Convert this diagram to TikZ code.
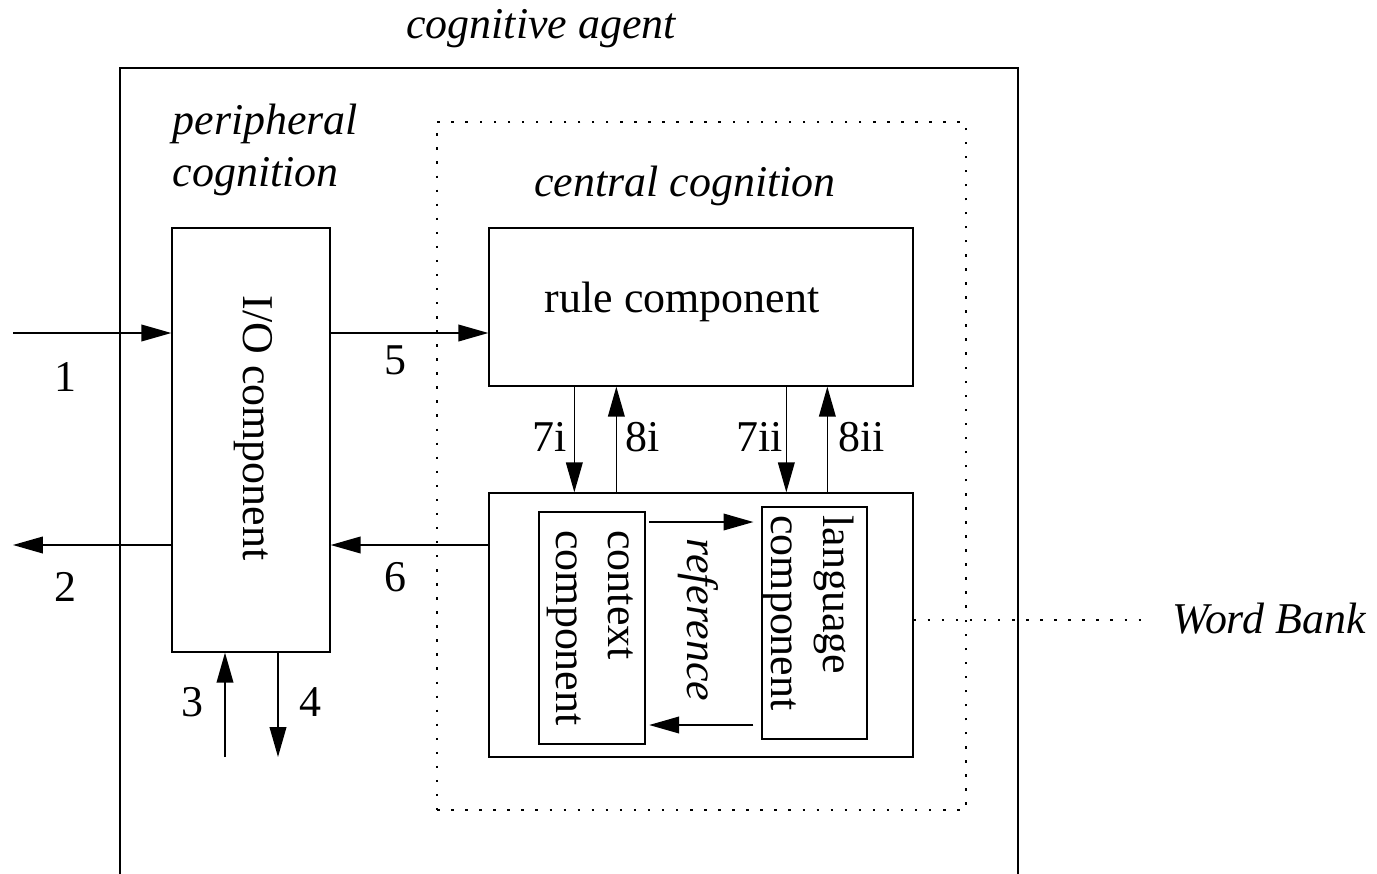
\documentclass[tikz,border=0pt]{standalone}
\usepackage{fontspec}
\setmainfont{Liberation Serif}
\usepackage{tikz}
\usetikzlibrary{calc, arrows.meta}
\tikzset{>={Triangle[length=17pt,width=9.5pt]}}
\tikzset{
box/.style={draw, line width=0.8pt, inner sep=0pt},
txt/.style={font=\fontsize{25}{29.5}\selectfont, inner sep=0pt},
itl/.style={font=\fontsize{25}{29.5}\selectfont\itshape, inner sep=0pt},
dots/.style={line width=0.9pt, dash pattern=on 1.4pt off 6.6pt}
}

\begin{document}
\begin{tikzpicture}[x=0.02cm, y=-0.02cm, line width=0.8pt]
\useasboundingbox (0,0) rectangle (1377,873);
% frames
\node[box, minimum width=17.96cm, minimum height=16.4cm] (agent) at (569,478) {};
\node[box, dots, minimum width=10.58cm, minimum height=13.76cm] (central) at (701.5,466) {};
\node[itl] (agentlab) at (541,29) {cognitive agent};
\node[itl, align=left, anchor=west] (periph) at (172,150) {peripheral\\cognition};
\node[itl] (centlab) at (685,186) {central cognition};
% components
\node[box, minimum width=3.16cm, minimum height=8.48cm] (io) at (251,440) {};
\node[txt, rotate=-90] (iolab) at (253,428) {I/O component};
\node[box, minimum width=8.48cm, minimum height=3.16cm] (rule) at (701,307) {};
\node[txt] (rulelab) at (682,302) {rule component};
\node[box, minimum width=8.48cm, minimum height=5.28cm] (bank) at (701,625) {};
\node[box, minimum width=2.12cm, minimum height=4.64cm] (ctx) at (592,628) {};
\node[txt, rotate=-90, align=left] (ctxlab) at (590,628) {context\\component};
\node[box, minimum width=2.1cm, minimum height=4.64cm] (lang) at (814.5,623) {};
\node[txt, rotate=-90, align=left] (langlab) at (808,613) {language\\component};
\node[itl, rotate=-90] (reflab) at (698,620) {reference};
\node[itl] (wblab) at (1269,619) {Word Bank};
% free ends
\coordinate (in1) at (13,333);
\coordinate (out2) at (13,545);
\coordinate (in3) at (225,757);
\coordinate (out4) at (278,757);
% connectors
\draw[->] (in1) -- (in1 -| io.west);
\draw[->] (io.west |- out2) -- (out2);
\draw[->] (in3) -- (in3 |- io.south);
\draw[->] (out4 |- io.south) -- (out4);
\draw[->] (io.east |- in1) -- (rule.west |- in1);
\draw[->] (bank.west |- out2) -- (io.east |- out2);
\draw[->] ($(rule.south west)+(86,0)$) -- ($(bank.north west)+(86,0)$);
\draw[<-] ($(rule.south west)+(128,0)$) -- ($(bank.north west)+(128,0)$);
\draw[->] ($(rule.south west)+(298,0)$) -- ($(bank.north west)+(298,0)$);
\draw[<-] ($(rule.south west)+(339,0)$) -- ($(bank.north west)+(339,0)$);
\draw[->, shorten <=2pt, shorten >=4.5pt] (ctx.east |- 0,522) -- (lang.west |- 0,522);
\draw[->, shorten <=4.5pt, shorten >=2pt] (lang.west |- 0,725) -- (ctx.east |- 0,725);
\draw[dots] (bank.east |- 0,620) -- (1147,620);
% labels
\node[txt] (l1) at (65,377) {1};
\node[txt] (l2) at (65,587) {2};
\node[txt] (l3) at (192,702) {3};
\node[txt] (l4) at (310,702) {4};
\node[txt] (l5) at (395,360) {5};
\node[txt] (l6) at (395,577) {6};
\node[txt] (l7i) at (550,437) {7i};
\node[txt] (l8i) at (643,437) {8i};
\node[txt] (l7ii) at (760,437) {7ii};
\node[txt] (l8ii) at (862,437) {8ii};
\end{tikzpicture}
\end{document}
